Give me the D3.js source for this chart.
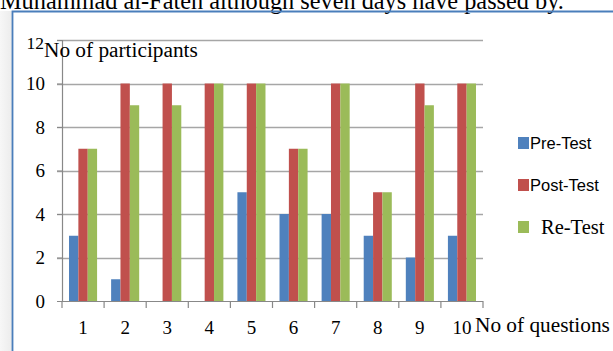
<!DOCTYPE html>
<html><head><meta charset="utf-8">
<script src="https://cdn.jsdelivr.net/npm/d3@7/dist/d3.min.js"></script>
<style>html,body{margin:0;padding:0;background:#fff;overflow:hidden}</style>
</head><body>
<svg id="c" width="613" height="351"></svg>
<script>
const categories = ["1","2","3","4","5","6","7","8","9","10"];
const seriesNames = ["Pre-Test","Post-Test","Re-Test"];
const preTest  = [3,1,0,0,5,4,4,3,2,3];
const postTest = [7,10,10,10,10,7,10,5,10,10];
const reTest   = [7,9,9,10,10,7,10,5,9,10];
const yTicks = [0,2,4,6,8,10,12];
const colors = ["#4F81BD","#C0504D","#9BBB59"];
const headerText = "Muhammad al-Fateh although seven days have passed by.";
const yTitle = "No of participants";
const xTitle = "No of questions";

(function(){
const values = [preTest, postTest, reTest];
const svg = d3.select("#c");
const serif = "'Liberation Serif','Times New Roman',serif";
const sans = "'Liberation Sans',Arial,sans-serif";

const grad = svg.append("defs").append("linearGradient").attr("id","sh").attr("x1","0").attr("x2","1");
grad.append("stop").attr("offset","0").attr("stop-color","#f7f7f7");
grad.append("stop").attr("offset","1").attr("stop-color","#ececec");
svg.append("rect").attr("x",0).attr("y",11).attr("width",12).attr("height",340).attr("fill","url(#sh)");

svg.append("text").attr("x",0).attr("y",9).attr("font-family",serif).attr("font-size",24.3)
  .attr("fill","#000").text(headerText);

svg.append("path").attr("d","M12.5,351 L12.5,11.5 L613,11.5").attr("fill","none")
  .attr("stroke","#4A7EBB").attr("stroke-width",1.8);

const pL=62, pR=483, pT=40, pB=301;
const y = d3.scaleLinear().domain([0,12]).range([pB, pT]);
const xCat = d3.scaleBand().domain(categories).range([pL,pR]).padding(0);
const x0 = d3.scaleBand().domain(categories).range([pL,pR]).paddingInner(1/3).paddingOuter(1/6);
const x1 = d3.scaleBand().domain(seriesNames).range([0, x0.bandwidth()]);

svg.append("g").selectAll("line").data(yTicks.filter(d=>d>0)).join("line")
  .attr("x1",pL-5).attr("x2",pR).attr("y1",d=>Math.round(y(d))+0.5).attr("y2",d=>Math.round(y(d))+0.5)
  .attr("stroke","#a6a6a6").attr("stroke-width",1.3);

const g = svg.append("g");
categories.forEach((c,i)=>{
  seriesNames.forEach((s,j)=>{
    const v = values[j][i];
    if (v<=0) return;
    g.append("rect").attr("x",x0(c)+x1(s)).attr("width",x1.bandwidth())
      .attr("y",y(v)).attr("height",y(0)-y(v)).attr("fill",colors[j]);
  });
});

const yAxis = d3.axisLeft(y).tickValues(yTicks).tickSize(5).tickPadding(12);
const ya = svg.append("g").attr("transform",`translate(${pL},0)`).call(yAxis);
ya.select(".domain").attr("stroke","#888").attr("stroke-width",1.2);
ya.selectAll(".tick line").attr("stroke","#888");
ya.selectAll(".tick text").attr("font-family",serif).attr("font-size",19).attr("fill","#000");
ya.selectAll(".tick").filter(d=>d===12).select("text").attr("font-size",17.5).attr("dy","0.5em").attr("dx","-1");

svg.append("line").attr("x1",pL-5).attr("x2",pR).attr("y1",pB+0.5).attr("y2",pB+0.5)
  .attr("stroke","#888").attr("stroke-width",1.2);
const bounds = categories.map(c=>xCat(c)).concat([pR]);
svg.append("g").selectAll("line").data(bounds).join("line")
  .attr("x1",d=>d).attr("x2",d=>d).attr("y1",pB).attr("y2",pB+7)
  .attr("stroke","#888").attr("stroke-width",1.2);
svg.append("g").selectAll("text").data(categories).join("text")
  .attr("x",d=>xCat(d)+xCat.bandwidth()/2).attr("y",334)
  .attr("text-anchor","middle").attr("font-family",serif).attr("font-size",19).attr("fill","#000")
  .text(d=>d);

svg.append("text").attr("x",44).attr("y",56.5).attr("font-family",serif).attr("font-size",21.3).text(yTitle);
svg.append("text").attr("x",475).attr("y",332).attr("font-family",serif).attr("font-size",21.3).text(xTitle);

const legY = [143,185,227];
seriesNames.forEach((s,j)=>{
  svg.append("rect").attr("x",518).attr("y",legY[j]-6).attr("width",11).attr("height",12).attr("fill",colors[j]);
  if (j<2) {
    svg.append("text").attr("x",530).attr("y",legY[j]+6).attr("font-family",sans).attr("font-size",16.5).text(s);
  } else {
    svg.append("text").attr("x",541).attr("y",legY[j]+6.5).attr("font-family",serif).attr("font-size",20.5).text(s);
  }
});
})();
</script>
</body></html>
